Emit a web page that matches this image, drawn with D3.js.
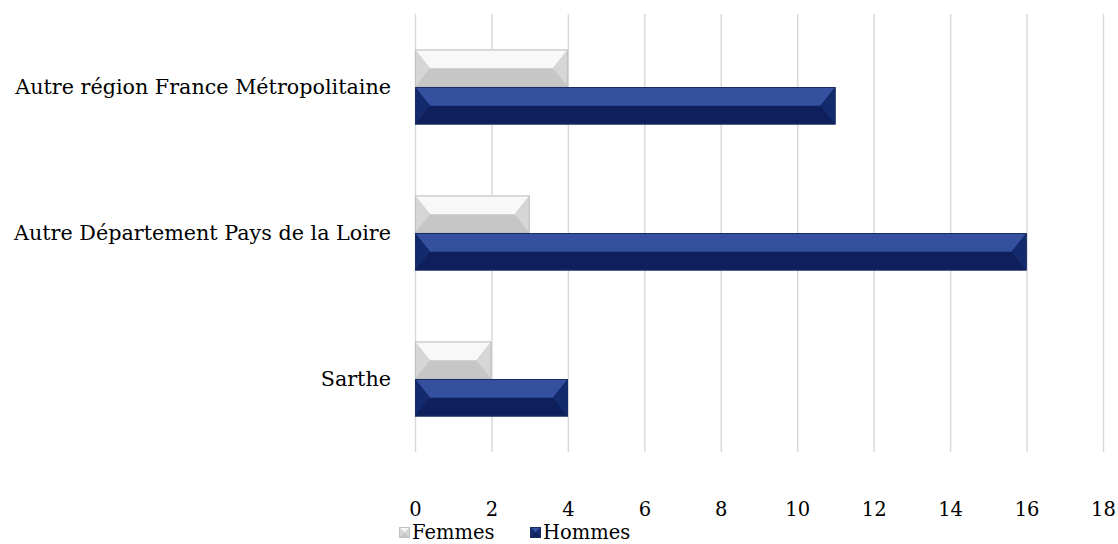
<html lang="fr">
<head>
<meta charset="utf-8">
<title></title>
<style>
  body { margin: 0; background: #fff; }
  text { font-family: "DejaVu Serif", "Liberation Serif", serif; fill: #000; }
  .grid line { stroke: #d9d9d9; stroke-width: 1.5; }
  .grid path { display: none; }
  .xaxis path, .xaxis line { display: none; }
</style>
<script src="https://d3js.org/d3.v7.min.js"></script>
</head>
<body>
<svg id="chart" width="1118" height="544"></svg>
<script>
// data
var categories = ["Autre région France Métropolitaine", "Autre Département Pays de la Loire", "Sarthe"];
var femmes = [4, 3, 2];
var hommes = [11, 16, 4];
var seriesNames = ["Femmes", "Hommes"];
var xTicks = [0, 2, 4, 6, 8, 10, 12, 14, 16, 18];

// palettes: [top face, bottom face, side faces, edge]
var pal = {
  Femmes: ["#f8f8f8", "#c6c6c6", "#d6d6d6", "#c0c0c0"],
  Hommes: ["#34509f", "#0e1f5b", "#132a6c", "#1a2c66"]
};

var svg = d3.select("#chart");

var x = d3.scaleLinear().domain([0, 18]).range([415, 1103]);
var y = d3.scaleBand().domain(categories).range([14, 452]);
var sub = d3.scaleBand().domain(seriesNames).range([0, 75]);

// gridlines
svg.append("g")
    .attr("class", "grid")
    .attr("transform", "translate(0,452)")
    .call(d3.axisBottom(x).tickValues(xTicks).tickSize(-438).tickFormat(""));

// x tick labels
svg.append("g")
    .attr("class", "xaxis")
    .attr("transform", "translate(0,452)")
    .call(d3.axisBottom(x).tickValues(xTicks).tickSize(0).tickPadding(50))
    .selectAll("text")
    .attr("font-size", 19.5)
    .attr("font-family", null);

// category labels
svg.append("g").selectAll("text")
    .data(categories)
  .enter().append("text")
    .attr("x", 391)
    .attr("y", function(d) { return y(d) + y.bandwidth() / 2; })
    .attr("dy", "0.35em")
    .attr("text-anchor", "end")
    .attr("font-size", 20.7)
    .text(function(d) { return d; });

// bevelled bar
function bevelBar(g, x0, x1, y0, h, p) {
  var y1 = y0 + h, ym = y0 + h / 2;
  var b = Math.min(15, (x1 - x0) / 2);
  var gid = "grad" + Math.round(Math.random() * 1e9);
  g.append("rect").attr("x", x0).attr("y", y0).attr("width", x1 - x0).attr("height", h)
    .attr("fill", p[1]);
  g.append("polygon")
    .attr("points", [[x0, y0], [x1, y0], [x1 - b, ym], [x0 + b, ym]].join(" "))
    .attr("fill", p[0]);
  g.append("polygon")
    .attr("points", [[x0, y0], [x0 + b, ym], [x0, y1]].join(" "))
    .attr("fill", p[2]);
  g.append("polygon")
    .attr("points", [[x1, y0], [x1 - b, ym], [x1, y1]].join(" "))
    .attr("fill", p[2]);
  g.append("rect").attr("x", x0 + 0.5).attr("y", y0 + 0.5).attr("width", x1 - x0 - 1).attr("height", h - 1)
    .attr("fill", "none").attr("stroke", p[3]).attr("stroke-width", 1);
}

var bars = svg.append("g");
categories.forEach(function(c, i) {
  var gy = y(c) + (y.bandwidth() - 75) / 2;
  bevelBar(bars, x(0), x(femmes[i]), gy + sub("Femmes"), sub.bandwidth(), pal.Femmes);
  bevelBar(bars, x(0), x(hommes[i]), gy + sub("Hommes"), sub.bandwidth(), pal.Hommes);
});

// legend
var legend = svg.append("g");
var lx = [399, 530];
seriesNames.forEach(function(s, i) {
  var g = legend.append("g");
  bevelBar(g, lx[i], lx[i] + 11, 527, 11, pal[s]);
  g.append("text")
    .attr("x", lx[i] + 13)
    .attr("y", 539)
    .attr("font-size", 19.5)
    .text(s);
});
</script>
</body>
</html>
